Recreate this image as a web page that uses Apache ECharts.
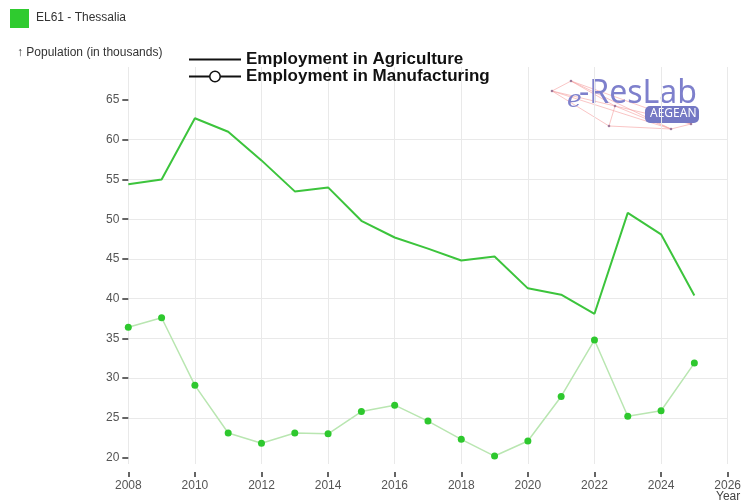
<!DOCTYPE html>
<html>
<head>
<meta charset="utf-8">
<script src="https://cdn.jsdelivr.net/npm/echarts@6/dist/echarts.min.js"></script>
<style>html,body{margin:0;padding:0;background:#fff}#c{width:744px;height:504px}</style>
</head>
<body>
<div id="c"></div>
<script>
const years = [2008,2009,2010,2011,2012,2013,2014,2015,2016,2017,2018,2019,2020,2021,2022,2023,2024,2025];
const agriculture = [54.4,55.0,62.7,61.0,57.4,53.5,54.0,49.8,47.7,46.3,44.8,45.3,41.3,40.5,38.1,50.8,48.1,40.4];
const manufacturing = [36.4,37.6,29.1,23.1,21.8,23.1,23.0,25.8,26.6,24.6,22.3,20.2,22.1,27.7,34.8,25.2,25.9,31.9];
const yTickValues = [20,25,30,35,40,45,50,55,60,65];
const seriesNames = ['Employment in Agriculture','Employment in Manufacturing'];
const regionLabel = 'EL61 - Thessalia';
const yTitle = '\u2191 Population (in thousands)';
const xTitle = 'Year \u2192';

const FONT = 'Liberation Sans';
const chart = echarts.init(document.getElementById('c'), null, {renderer:'canvas'});

const pink = '#f5a3a3';
const netPts = [[552,91],[571,81],[615,106],[609,126],[671,129],[691,124]];
const netEdges = [[0,1],[1,5],[5,4],[4,0],[0,3],[3,4],[1,2],[2,3],[2,5],[0,2],[1,4],[2,4]];
const logo = [];
netEdges.forEach(e => {
  logo.push({type:'line', silent:true, shape:{x1:netPts[e[0]][0],y1:netPts[e[0]][1],x2:netPts[e[1]][0],y2:netPts[e[1]][1]}, style:{stroke:pink, lineWidth:0.8, opacity:0.8}});
});
netPts.forEach(p => {
  logo.push({type:'circle', silent:true, shape:{cx:p[0],cy:p[1],r:1.3}, style:{fill:'#a07a9a'}});
});
logo.push({type:'text', silent:true, left:567, top:88, style:{text:'e', font:'italic 25px "DejaVu Serif"', fill:'#7e80cc'}});
logo.push({type:'text', silent:true, left:579, top:78, style:{text:'-ResLab', font:'32px "Noto Sans"', fill:'#7e80cc'}});
logo.push({type:'rect', silent:true, shape:{x:645,y:106,width:54,height:17,r:5}, style:{fill:'#7478c4'}});
logo.push({type:'text', silent:true, left:650, top:108, style:{text:'AEGEAN', font:'12px "Noto Sans"', fill:'#fff'}});

chart.setOption({
  animation:false,
  backgroundColor:'#fff',
  textStyle:{fontFamily:FONT},
  grid:{left:128.3, right:15.7, top:67, bottom:40, containLabel:false},
  legend:{
    orient:'vertical', left:188, top:51, padding:0, itemWidth:52, itemHeight:13, itemGap:0,
    textStyle:{fontSize:17, fontWeight:'bold', color:'#111', fontFamily:FONT},
    data:[
      {name:seriesNames[0], itemStyle:{color:'rgba(0,0,0,0)', borderWidth:0, opacity:0}, lineStyle:{color:'#111', width:2}},
      {name:seriesNames[1], itemStyle:{color:'#fff', borderColor:'#111', borderWidth:1.5}, lineStyle:{color:'#111', width:2}}
    ]
  },
  xAxis:{
    type:'value', min:2008, max:2026, interval:2, offset:8,
    axisLine:{show:false},
    axisTick:{show:true, length:5, lineStyle:{color:'#333', width:1.5}},
    axisLabel:{color:'#555', fontSize:12, margin:8, formatter:v=>String(v)},
    splitLine:{show:true, lineStyle:{color:'#e9e9e9', width:1}}
  },
  yAxis:{
    type:'value', min:19.2, max:69.15, splitNumber:10,
    axisLine:{show:false},
    axisTick:{show:true, length:6, customValues:yTickValues, lineStyle:{color:'#333', width:1.5}},
    axisLabel:{color:'#555', fontSize:12, margin:9, customValues:yTickValues},
    splitLine:{show:true, showMinLine:false, showMaxLine:false, lineStyle:{color:'#e9e9e9', width:1}}
  },
  graphic:[
    {type:'rect', silent:true, shape:{x:10,y:9,width:19,height:19}, style:{fill:'#2fcb2f'}},
    {type:'text', silent:true, left:36, top:12, style:{text:regionLabel, font:'12px "Liberation Sans"', fill:'#333'}},
    {type:'text', silent:true, left:17, top:47, style:{text:yTitle, font:'12px "Liberation Sans"', fill:'#333'}},
    {type:'text', silent:true, left:716, top:491, style:{text:xTitle, font:'12px "Liberation Sans"', fill:'#444'}}
  ].concat(logo),
  series:[
    {
      name:seriesNames[0], type:'line', symbol:'none',
      data:years.map((y,i)=>[y, agriculture[i]]),
      itemStyle:{color:'#3cc43c'},
      lineStyle:{color:'#3cc43c', width:2},
      z:3
    },
    {
      name:seriesNames[1], type:'line', symbol:'circle', symbolSize:7, showSymbol:true,
      data:years.map((y,i)=>[y, manufacturing[i]]),
      itemStyle:{color:'#2ec82e'},
      lineStyle:{color:'#b9e6b1', width:1.5},
      z:2
    }
  ]
});
</script>
</body>
</html>
